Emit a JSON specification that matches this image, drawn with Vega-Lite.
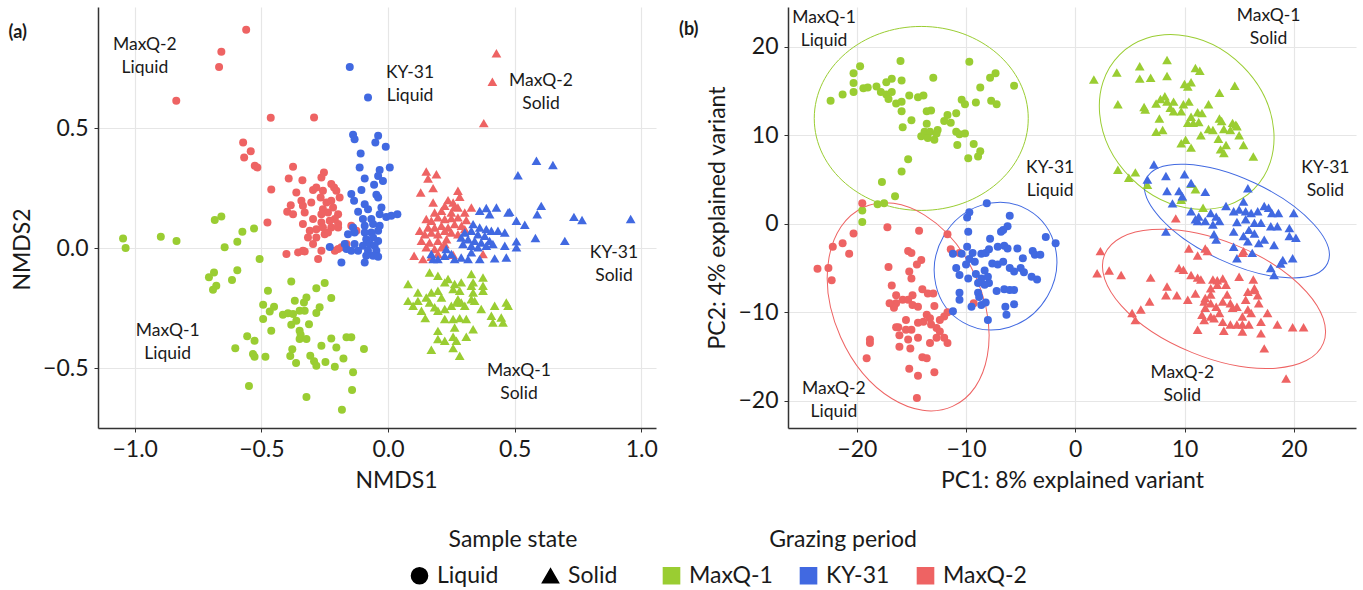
{
"$schema":"https://vega.github.io/schema/vega-lite/v6.json",
"padding":{"left":8,"top":6,"right":8,"bottom":0},
"background":"white",
"config":{
 "view":{"stroke":null},
 "font":"Lato",
 "axis":{"labelFont":"Lato","titleFont":"Lato","labelFontSize":23,"titleFontSize":23,"labelColor":"#1a1a1a","titleColor":"#1a1a1a","titleFontWeight":"normal","domainColor":"#333333","domainWidth":1.5,"tickColor":"#333333","tickSize":4,"gridColor":"#e6e6e6","gridWidth":1.2,"labelPadding":6,"titlePadding":8},
 "legend":{"direction":"horizontal","titleFont":"Lato","labelFont":"Lato","titleFontSize":23,"labelFontSize":23,"titleFontWeight":"normal","titleColor":"#1a1a1a","labelColor":"#1a1a1a","titleAnchor":"middle","symbolSize":260,"labelOffset":6,"titlePadding":12,"padding":0},
 "title":{"font":"Lato","fontSize":18,"fontWeight":"bold","color":"#1a1a1a"}
},
"resolve":{"scale":{"color":"shared","shape":"shared","x":"independent","y":"independent"}},
"spacing":20,
"datasets":{
"nmds":[
{"x":-1.046,"y":0.04,"period":"MaxQ-1","state":"Liquid"},{"x":-1.036,"y":0.0,"period":"MaxQ-1","state":"Liquid"},{"x":-0.897,"y":0.047,"period":"MaxQ-1","state":"Liquid"},{"x":-0.835,"y":0.03,"period":"MaxQ-1","state":"Liquid"},{"x":-0.684,"y":0.117,"period":"MaxQ-1","state":"Liquid"},{"x":-0.658,"y":0.132,"period":"MaxQ-1","state":"Liquid"},{"x":-0.575,"y":0.068,"period":"MaxQ-1","state":"Liquid"},{"x":-0.529,"y":0.082,"period":"MaxQ-1","state":"Liquid"},{"x":-0.595,"y":0.026,"period":"MaxQ-1","state":"Liquid"},{"x":-0.645,"y":0.003,"period":"MaxQ-1","state":"Liquid"},{"x":-0.507,"y":-0.046,"period":"MaxQ-1","state":"Liquid"},{"x":-0.687,"y":-0.102,"period":"MaxQ-1","state":"Liquid"},{"x":-0.707,"y":-0.122,"period":"MaxQ-1","state":"Liquid"},{"x":-0.595,"y":-0.092,"period":"MaxQ-1","state":"Liquid"},{"x":-0.616,"y":-0.133,"period":"MaxQ-1","state":"Liquid"},{"x":-0.678,"y":-0.157,"period":"MaxQ-1","state":"Liquid"},{"x":-0.691,"y":-0.174,"period":"MaxQ-1","state":"Liquid"},{"x":-0.382,"y":-0.139,"period":"MaxQ-1","state":"Liquid"},{"x":-0.474,"y":-0.178,"period":"MaxQ-1","state":"Liquid"},{"x":-0.283,"y":-0.167,"period":"MaxQ-1","state":"Liquid"},{"x":-0.25,"y":-0.146,"period":"MaxQ-1","state":"Liquid"},{"x":-0.493,"y":-0.236,"period":"MaxQ-1","state":"Liquid"},{"x":-0.45,"y":-0.245,"period":"MaxQ-1","state":"Liquid"},{"x":-0.467,"y":-0.264,"period":"MaxQ-1","state":"Liquid"},{"x":-0.368,"y":-0.22,"period":"MaxQ-1","state":"Liquid"},{"x":-0.332,"y":-0.227,"period":"MaxQ-1","state":"Liquid"},{"x":-0.322,"y":-0.206,"period":"MaxQ-1","state":"Liquid"},{"x":-0.224,"y":-0.208,"period":"MaxQ-1","state":"Liquid"},{"x":-0.27,"y":-0.247,"period":"MaxQ-1","state":"Liquid"},{"x":-0.283,"y":-0.271,"period":"MaxQ-1","state":"Liquid"},{"x":-0.415,"y":-0.278,"period":"MaxQ-1","state":"Liquid"},{"x":-0.395,"y":-0.272,"period":"MaxQ-1","state":"Liquid"},{"x":-0.375,"y":-0.275,"period":"MaxQ-1","state":"Liquid"},{"x":-0.349,"y":-0.261,"period":"MaxQ-1","state":"Liquid"},{"x":-0.329,"y":-0.261,"period":"MaxQ-1","state":"Liquid"},{"x":-0.493,"y":-0.296,"period":"MaxQ-1","state":"Liquid"},{"x":-0.362,"y":-0.303,"period":"MaxQ-1","state":"Liquid"},{"x":-0.382,"y":-0.32,"period":"MaxQ-1","state":"Liquid"},{"x":-0.312,"y":-0.317,"period":"MaxQ-1","state":"Liquid"},{"x":-0.461,"y":-0.345,"period":"MaxQ-1","state":"Liquid"},{"x":-0.349,"y":-0.345,"period":"MaxQ-1","state":"Liquid"},{"x":-0.345,"y":-0.361,"period":"MaxQ-1","state":"Liquid"},{"x":-0.556,"y":-0.368,"period":"MaxQ-1","state":"Liquid"},{"x":-0.527,"y":-0.386,"period":"MaxQ-1","state":"Liquid"},{"x":-0.349,"y":-0.379,"period":"MaxQ-1","state":"Liquid"},{"x":-0.322,"y":-0.379,"period":"MaxQ-1","state":"Liquid"},{"x":-0.224,"y":-0.377,"period":"MaxQ-1","state":"Liquid"},{"x":-0.164,"y":-0.372,"period":"MaxQ-1","state":"Liquid"},{"x":-0.145,"y":-0.372,"period":"MaxQ-1","state":"Liquid"},{"x":-0.263,"y":-0.407,"period":"MaxQ-1","state":"Liquid"},{"x":-0.204,"y":-0.414,"period":"MaxQ-1","state":"Liquid"},{"x":-0.095,"y":-0.421,"period":"MaxQ-1","state":"Liquid"},{"x":-0.603,"y":-0.418,"period":"MaxQ-1","state":"Liquid"},{"x":-0.533,"y":-0.442,"period":"MaxQ-1","state":"Liquid"},{"x":-0.527,"y":-0.453,"period":"MaxQ-1","state":"Liquid"},{"x":-0.484,"y":-0.453,"period":"MaxQ-1","state":"Liquid"},{"x":-0.378,"y":-0.422,"period":"MaxQ-1","state":"Liquid"},{"x":-0.386,"y":-0.45,"period":"MaxQ-1","state":"Liquid"},{"x":-0.307,"y":-0.449,"period":"MaxQ-1","state":"Liquid"},{"x":-0.292,"y":-0.472,"period":"MaxQ-1","state":"Liquid"},{"x":-0.283,"y":-0.49,"period":"MaxQ-1","state":"Liquid"},{"x":-0.247,"y":-0.475,"period":"MaxQ-1","state":"Liquid"},{"x":-0.176,"y":-0.46,"period":"MaxQ-1","state":"Liquid"},{"x":-0.363,"y":-0.479,"period":"MaxQ-1","state":"Liquid"},{"x":-0.21,"y":-0.495,"period":"MaxQ-1","state":"Liquid"},{"x":-0.138,"y":-0.518,"period":"MaxQ-1","state":"Liquid"},{"x":-0.549,"y":-0.575,"period":"MaxQ-1","state":"Liquid"},{"x":-0.142,"y":-0.592,"period":"MaxQ-1","state":"Liquid"},{"x":-0.322,"y":-0.621,"period":"MaxQ-1","state":"Liquid"},{"x":-0.182,"y":-0.674,"period":"MaxQ-1","state":"Liquid"},
{"x":-0.56,"y":0.91,"period":"MaxQ-2","state":"Liquid"},{"x":-0.658,"y":0.818,"period":"MaxQ-2","state":"Liquid"},{"x":-0.667,"y":0.755,"period":"MaxQ-2","state":"Liquid"},{"x":-0.836,"y":0.614,"period":"MaxQ-2","state":"Liquid"},{"x":-0.463,"y":0.543,"period":"MaxQ-2","state":"Liquid"},{"x":-0.292,"y":0.544,"period":"MaxQ-2","state":"Liquid"},{"x":-0.572,"y":0.44,"period":"MaxQ-2","state":"Liquid"},{"x":-0.542,"y":0.404,"period":"MaxQ-2","state":"Liquid"},{"x":-0.568,"y":0.378,"period":"MaxQ-2","state":"Liquid"},{"x":-0.526,"y":0.343,"period":"MaxQ-2","state":"Liquid"},{"x":-0.516,"y":0.336,"period":"MaxQ-2","state":"Liquid"},{"x":-0.375,"y":0.339,"period":"MaxQ-2","state":"Liquid"},{"x":-0.392,"y":0.29,"period":"MaxQ-2","state":"Liquid"},{"x":-0.338,"y":0.283,"period":"MaxQ-2","state":"Liquid"},{"x":-0.253,"y":0.315,"period":"MaxQ-2","state":"Liquid"},{"x":-0.263,"y":0.294,"period":"MaxQ-2","state":"Liquid"},{"x":-0.461,"y":0.244,"period":"MaxQ-2","state":"Liquid"},{"x":-0.362,"y":0.232,"period":"MaxQ-2","state":"Liquid"},{"x":-0.296,"y":0.242,"period":"MaxQ-2","state":"Liquid"},{"x":-0.283,"y":0.253,"period":"MaxQ-2","state":"Liquid"},{"x":-0.224,"y":0.267,"period":"MaxQ-2","state":"Liquid"},{"x":-0.213,"y":0.253,"period":"MaxQ-2","state":"Liquid"},{"x":-0.257,"y":0.239,"period":"MaxQ-2","state":"Liquid"},{"x":-0.204,"y":0.239,"period":"MaxQ-2","state":"Liquid"},{"x":-0.191,"y":0.211,"period":"MaxQ-2","state":"Liquid"},{"x":-0.384,"y":0.179,"period":"MaxQ-2","state":"Liquid"},{"x":-0.342,"y":0.197,"period":"MaxQ-2","state":"Liquid"},{"x":-0.303,"y":0.19,"period":"MaxQ-2","state":"Liquid"},{"x":-0.336,"y":0.176,"period":"MaxQ-2","state":"Liquid"},{"x":-0.329,"y":0.148,"period":"MaxQ-2","state":"Liquid"},{"x":-0.398,"y":0.151,"period":"MaxQ-2","state":"Liquid"},{"x":-0.375,"y":0.141,"period":"MaxQ-2","state":"Liquid"},{"x":-0.266,"y":0.211,"period":"MaxQ-2","state":"Liquid"},{"x":-0.243,"y":0.19,"period":"MaxQ-2","state":"Liquid"},{"x":-0.224,"y":0.197,"period":"MaxQ-2","state":"Liquid"},{"x":-0.217,"y":0.169,"period":"MaxQ-2","state":"Liquid"},{"x":-0.257,"y":0.162,"period":"MaxQ-2","state":"Liquid"},{"x":-0.237,"y":0.148,"period":"MaxQ-2","state":"Liquid"},{"x":-0.263,"y":0.141,"period":"MaxQ-2","state":"Liquid"},{"x":-0.197,"y":0.141,"period":"MaxQ-2","state":"Liquid"},{"x":-0.21,"y":0.121,"period":"MaxQ-2","state":"Liquid"},{"x":-0.23,"y":0.114,"period":"MaxQ-2","state":"Liquid"},{"x":-0.197,"y":0.1,"period":"MaxQ-2","state":"Liquid"},{"x":-0.296,"y":0.121,"period":"MaxQ-2","state":"Liquid"},{"x":-0.263,"y":0.107,"period":"MaxQ-2","state":"Liquid"},{"x":-0.336,"y":0.1,"period":"MaxQ-2","state":"Liquid"},{"x":-0.309,"y":0.072,"period":"MaxQ-2","state":"Liquid"},{"x":-0.283,"y":0.079,"period":"MaxQ-2","state":"Liquid"},{"x":-0.257,"y":0.086,"period":"MaxQ-2","state":"Liquid"},{"x":-0.224,"y":0.086,"period":"MaxQ-2","state":"Liquid"},{"x":-0.197,"y":0.086,"period":"MaxQ-2","state":"Liquid"},{"x":-0.25,"y":0.058,"period":"MaxQ-2","state":"Liquid"},{"x":-0.283,"y":0.044,"period":"MaxQ-2","state":"Liquid"},{"x":-0.316,"y":0.044,"period":"MaxQ-2","state":"Liquid"},{"x":-0.145,"y":0.093,"period":"MaxQ-2","state":"Liquid"},{"x":-0.125,"y":0.072,"period":"MaxQ-2","state":"Liquid"},{"x":-0.164,"y":0.017,"period":"MaxQ-2","state":"Liquid"},{"x":-0.197,"y":-0.004,"period":"MaxQ-2","state":"Liquid"},{"x":-0.263,"y":-0.011,"period":"MaxQ-2","state":"Liquid"},{"x":-0.336,"y":-0.011,"period":"MaxQ-2","state":"Liquid"},{"x":-0.296,"y":0.017,"period":"MaxQ-2","state":"Liquid"},{"x":-0.276,"y":-0.046,"period":"MaxQ-2","state":"Liquid"},{"x":-0.476,"y":0.107,"period":"MaxQ-2","state":"Liquid"},{"x":-0.401,"y":-0.025,"period":"MaxQ-2","state":"Liquid"},{"x":-0.355,"y":-0.018,"period":"MaxQ-2","state":"Liquid"},{"x":-0.329,"y":-0.014,"period":"MaxQ-2","state":"Liquid"},{"x":-0.237,"y":0.065,"period":"MaxQ-2","state":"Liquid"},{"x":-0.184,"y":0.003,"period":"MaxQ-2","state":"Liquid"},{"x":-0.21,"y":-0.011,"period":"MaxQ-2","state":"Liquid"},
{"x":-0.151,"y":0.755,"period":"KY-31","state":"Liquid"},{"x":-0.079,"y":0.628,"period":"KY-31","state":"Liquid"},{"x":-0.138,"y":0.472,"period":"KY-31","state":"Liquid"},{"x":-0.132,"y":0.454,"period":"KY-31","state":"Liquid"},{"x":-0.039,"y":0.468,"period":"KY-31","state":"Liquid"},{"x":-0.05,"y":0.44,"period":"KY-31","state":"Liquid"},{"x":-0.009,"y":0.422,"period":"KY-31","state":"Liquid"},{"x":-0.108,"y":0.394,"period":"KY-31","state":"Liquid"},{"x":-0.112,"y":0.336,"period":"KY-31","state":"Liquid"},{"x":0.007,"y":0.336,"period":"KY-31","state":"Liquid"},{"x":-0.033,"y":0.325,"period":"KY-31","state":"Liquid"},{"x":-0.039,"y":0.301,"period":"KY-31","state":"Liquid"},{"x":-0.02,"y":0.28,"period":"KY-31","state":"Liquid"},{"x":-0.092,"y":0.29,"period":"KY-31","state":"Liquid"},{"x":-0.055,"y":0.264,"period":"KY-31","state":"Liquid"},{"x":-0.105,"y":0.242,"period":"KY-31","state":"Liquid"},{"x":-0.145,"y":0.225,"period":"KY-31","state":"Liquid"},{"x":-0.134,"y":0.197,"period":"KY-31","state":"Liquid"},{"x":-0.046,"y":0.222,"period":"KY-31","state":"Liquid"},{"x":-0.039,"y":0.211,"period":"KY-31","state":"Liquid"},{"x":-0.092,"y":0.183,"period":"KY-31","state":"Liquid"},{"x":-0.079,"y":0.162,"period":"KY-31","state":"Liquid"},{"x":-0.026,"y":0.169,"period":"KY-31","state":"Liquid"},{"x":-0.033,"y":0.141,"period":"KY-31","state":"Liquid"},{"x":-0.007,"y":0.13,"period":"KY-31","state":"Liquid"},{"x":0.013,"y":0.135,"period":"KY-31","state":"Liquid"},{"x":0.037,"y":0.141,"period":"KY-31","state":"Liquid"},{"x":-0.118,"y":0.151,"period":"KY-31","state":"Liquid"},{"x":-0.099,"y":0.121,"period":"KY-31","state":"Liquid"},{"x":-0.066,"y":0.121,"period":"KY-31","state":"Liquid"},{"x":-0.092,"y":0.093,"period":"KY-31","state":"Liquid"},{"x":-0.059,"y":0.1,"period":"KY-31","state":"Liquid"},{"x":-0.033,"y":0.093,"period":"KY-31","state":"Liquid"},{"x":-0.039,"y":0.072,"period":"KY-31","state":"Liquid"},{"x":-0.066,"y":0.065,"period":"KY-31","state":"Liquid"},{"x":-0.092,"y":0.065,"period":"KY-31","state":"Liquid"},{"x":-0.138,"y":0.086,"period":"KY-31","state":"Liquid"},{"x":-0.132,"y":0.065,"period":"KY-31","state":"Liquid"},{"x":-0.158,"y":0.058,"period":"KY-31","state":"Liquid"},{"x":-0.086,"y":0.037,"period":"KY-31","state":"Liquid"},{"x":-0.059,"y":0.044,"period":"KY-31","state":"Liquid"},{"x":-0.039,"y":0.03,"period":"KY-31","state":"Liquid"},{"x":-0.072,"y":0.017,"period":"KY-31","state":"Liquid"},{"x":-0.099,"y":0.01,"period":"KY-31","state":"Liquid"},{"x":-0.053,"y":0.01,"period":"KY-31","state":"Liquid"},{"x":-0.132,"y":0.017,"period":"KY-31","state":"Liquid"},{"x":-0.118,"y":-0.011,"period":"KY-31","state":"Liquid"},{"x":-0.145,"y":-0.011,"period":"KY-31","state":"Liquid"},{"x":-0.164,"y":-0.004,"period":"KY-31","state":"Liquid"},{"x":-0.079,"y":-0.011,"period":"KY-31","state":"Liquid"},{"x":-0.046,"y":-0.011,"period":"KY-31","state":"Liquid"},{"x":-0.059,"y":-0.032,"period":"KY-31","state":"Liquid"},{"x":-0.039,"y":-0.036,"period":"KY-31","state":"Liquid"},{"x":-0.086,"y":-0.032,"period":"KY-31","state":"Liquid"},{"x":-0.184,"y":-0.06,"period":"KY-31","state":"Liquid"},{"x":-0.092,"y":-0.06,"period":"KY-31","state":"Liquid"},{"x":-0.23,"y":0.005,"period":"KY-31","state":"Liquid"},{"x":-0.171,"y":0.017,"period":"KY-31","state":"Liquid"},
{"x":0.428,"y":0.812,"period":"MaxQ-2","state":"Solid"},{"x":0.412,"y":0.693,"period":"MaxQ-2","state":"Solid"},{"x":0.378,"y":0.521,"period":"MaxQ-2","state":"Solid"},{"x":0.151,"y":0.319,"period":"MaxQ-2","state":"Solid"},{"x":0.191,"y":0.308,"period":"MaxQ-2","state":"Solid"},{"x":0.158,"y":0.29,"period":"MaxQ-2","state":"Solid"},{"x":0.129,"y":0.232,"period":"MaxQ-2","state":"Solid"},{"x":0.178,"y":0.25,"period":"MaxQ-2","state":"Solid"},{"x":0.276,"y":0.239,"period":"MaxQ-2","state":"Solid"},{"x":0.283,"y":0.214,"period":"MaxQ-2","state":"Solid"},{"x":0.178,"y":0.19,"period":"MaxQ-2","state":"Solid"},{"x":0.237,"y":0.2,"period":"MaxQ-2","state":"Solid"},{"x":0.257,"y":0.19,"period":"MaxQ-2","state":"Solid"},{"x":0.263,"y":0.172,"period":"MaxQ-2","state":"Solid"},{"x":0.224,"y":0.176,"period":"MaxQ-2","state":"Solid"},{"x":0.276,"y":0.169,"period":"MaxQ-2","state":"Solid"},{"x":0.329,"y":0.169,"period":"MaxQ-2","state":"Solid"},{"x":0.303,"y":0.148,"period":"MaxQ-2","state":"Solid"},{"x":0.25,"y":0.148,"period":"MaxQ-2","state":"Solid"},{"x":0.184,"y":0.148,"period":"MaxQ-2","state":"Solid"},{"x":0.211,"y":0.155,"period":"MaxQ-2","state":"Solid"},{"x":0.151,"y":0.121,"period":"MaxQ-2","state":"Solid"},{"x":0.171,"y":0.114,"period":"MaxQ-2","state":"Solid"},{"x":0.197,"y":0.128,"period":"MaxQ-2","state":"Solid"},{"x":0.224,"y":0.121,"period":"MaxQ-2","state":"Solid"},{"x":0.25,"y":0.125,"period":"MaxQ-2","state":"Solid"},{"x":0.276,"y":0.128,"period":"MaxQ-2","state":"Solid"},{"x":0.309,"y":0.117,"period":"MaxQ-2","state":"Solid"},{"x":0.29,"y":0.093,"period":"MaxQ-2","state":"Solid"},{"x":0.263,"y":0.1,"period":"MaxQ-2","state":"Solid"},{"x":0.237,"y":0.086,"period":"MaxQ-2","state":"Solid"},{"x":0.211,"y":0.093,"period":"MaxQ-2","state":"Solid"},{"x":0.184,"y":0.086,"period":"MaxQ-2","state":"Solid"},{"x":0.158,"y":0.086,"period":"MaxQ-2","state":"Solid"},{"x":0.125,"y":0.072,"period":"MaxQ-2","state":"Solid"},{"x":0.145,"y":0.058,"period":"MaxQ-2","state":"Solid"},{"x":0.171,"y":0.065,"period":"MaxQ-2","state":"Solid"},{"x":0.197,"y":0.058,"period":"MaxQ-2","state":"Solid"},{"x":0.224,"y":0.072,"period":"MaxQ-2","state":"Solid"},{"x":0.25,"y":0.065,"period":"MaxQ-2","state":"Solid"},{"x":0.276,"y":0.058,"period":"MaxQ-2","state":"Solid"},{"x":0.303,"y":0.079,"period":"MaxQ-2","state":"Solid"},{"x":0.132,"y":0.03,"period":"MaxQ-2","state":"Solid"},{"x":0.164,"y":0.023,"period":"MaxQ-2","state":"Solid"},{"x":0.197,"y":0.03,"period":"MaxQ-2","state":"Solid"},{"x":0.224,"y":0.017,"period":"MaxQ-2","state":"Solid"},{"x":0.151,"y":0.003,"period":"MaxQ-2","state":"Solid"},{"x":0.184,"y":-0.004,"period":"MaxQ-2","state":"Solid"},{"x":0.211,"y":0.003,"period":"MaxQ-2","state":"Solid"},{"x":0.231,"y":0.037,"period":"MaxQ-2","state":"Solid"},{"x":0.103,"y":-0.032,"period":"MaxQ-2","state":"Solid"},{"x":0.138,"y":-0.046,"period":"MaxQ-2","state":"Solid"},{"x":0.171,"y":-0.036,"period":"MaxQ-2","state":"Solid"},{"x":0.257,"y":-0.028,"period":"MaxQ-2","state":"Solid"},{"x":0.375,"y":-0.025,"period":"MaxQ-2","state":"Solid"},{"x":0.197,"y":-0.025,"period":"MaxQ-2","state":"Solid"},
{"x":0.586,"y":0.364,"period":"KY-31","state":"Solid"},{"x":0.651,"y":0.346,"period":"KY-31","state":"Solid"},{"x":0.513,"y":0.304,"period":"KY-31","state":"Solid"},{"x":0.605,"y":0.176,"period":"KY-31","state":"Solid"},{"x":0.589,"y":0.141,"period":"KY-31","state":"Solid"},{"x":0.48,"y":0.151,"period":"KY-31","state":"Solid"},{"x":0.507,"y":0.114,"period":"KY-31","state":"Solid"},{"x":0.54,"y":0.097,"period":"KY-31","state":"Solid"},{"x":0.734,"y":0.13,"period":"KY-31","state":"Solid"},{"x":0.766,"y":0.117,"period":"KY-31","state":"Solid"},{"x":0.958,"y":0.121,"period":"KY-31","state":"Solid"},{"x":0.582,"y":0.042,"period":"KY-31","state":"Solid"},{"x":0.698,"y":0.03,"period":"KY-31","state":"Solid"},{"x":0.507,"y":0.028,"period":"KY-31","state":"Solid"},{"x":0.461,"y":0.01,"period":"KY-31","state":"Solid"},{"x":0.362,"y":0.155,"period":"KY-31","state":"Solid"},{"x":0.388,"y":0.167,"period":"KY-31","state":"Solid"},{"x":0.428,"y":0.169,"period":"KY-31","state":"Solid"},{"x":0.474,"y":0.148,"period":"KY-31","state":"Solid"},{"x":0.401,"y":0.141,"period":"KY-31","state":"Solid"},{"x":0.336,"y":0.1,"period":"KY-31","state":"Solid"},{"x":0.362,"y":0.086,"period":"KY-31","state":"Solid"},{"x":0.329,"y":0.072,"period":"KY-31","state":"Solid"},{"x":0.303,"y":0.065,"period":"KY-31","state":"Solid"},{"x":0.388,"y":0.079,"period":"KY-31","state":"Solid"},{"x":0.408,"y":0.072,"period":"KY-31","state":"Solid"},{"x":0.434,"y":0.072,"period":"KY-31","state":"Solid"},{"x":0.461,"y":0.065,"period":"KY-31","state":"Solid"},{"x":0.355,"y":0.058,"period":"KY-31","state":"Solid"},{"x":0.382,"y":0.051,"period":"KY-31","state":"Solid"},{"x":0.289,"y":0.044,"period":"KY-31","state":"Solid"},{"x":0.316,"y":0.037,"period":"KY-31","state":"Solid"},{"x":0.342,"y":0.03,"period":"KY-31","state":"Solid"},{"x":0.368,"y":0.023,"period":"KY-31","state":"Solid"},{"x":0.401,"y":0.03,"period":"KY-31","state":"Solid"},{"x":0.296,"y":0.017,"period":"KY-31","state":"Solid"},{"x":0.329,"y":0.01,"period":"KY-31","state":"Solid"},{"x":0.355,"y":0.003,"period":"KY-31","state":"Solid"},{"x":0.388,"y":0.01,"period":"KY-31","state":"Solid"},{"x":0.414,"y":0.017,"period":"KY-31","state":"Solid"},{"x":0.507,"y":0.003,"period":"KY-31","state":"Solid"},{"x":0.23,"y":-0.004,"period":"KY-31","state":"Solid"},{"x":0.25,"y":-0.025,"period":"KY-31","state":"Solid"},{"x":0.197,"y":-0.046,"period":"KY-31","state":"Solid"},{"x":0.263,"y":-0.046,"period":"KY-31","state":"Solid"},{"x":0.289,"y":-0.039,"period":"KY-31","state":"Solid"},{"x":0.316,"y":-0.046,"period":"KY-31","state":"Solid"},{"x":0.362,"y":-0.046,"period":"KY-31","state":"Solid"},{"x":0.421,"y":-0.043,"period":"KY-31","state":"Solid"},{"x":0.467,"y":-0.039,"period":"KY-31","state":"Solid"},{"x":0.329,"y":-0.018,"period":"KY-31","state":"Solid"},{"x":0.224,"y":-0.032,"period":"KY-31","state":"Solid"},{"x":0.178,"y":-0.046,"period":"KY-31","state":"Solid"},{"x":0.171,"y":-0.025,"period":"KY-31","state":"Solid"},
{"x":0.164,"y":-0.102,"period":"MaxQ-1","state":"Solid"},{"x":0.197,"y":-0.115,"period":"MaxQ-1","state":"Solid"},{"x":0.237,"y":-0.129,"period":"MaxQ-1","state":"Solid"},{"x":0.224,"y":-0.143,"period":"MaxQ-1","state":"Solid"},{"x":0.329,"y":-0.108,"period":"MaxQ-1","state":"Solid"},{"x":0.375,"y":-0.123,"period":"MaxQ-1","state":"Solid"},{"x":0.336,"y":-0.143,"period":"MaxQ-1","state":"Solid"},{"x":0.329,"y":-0.157,"period":"MaxQ-1","state":"Solid"},{"x":0.375,"y":-0.157,"period":"MaxQ-1","state":"Solid"},{"x":0.375,"y":-0.178,"period":"MaxQ-1","state":"Solid"},{"x":0.079,"y":-0.15,"period":"MaxQ-1","state":"Solid"},{"x":0.263,"y":-0.15,"period":"MaxQ-1","state":"Solid"},{"x":0.289,"y":-0.143,"period":"MaxQ-1","state":"Solid"},{"x":0.257,"y":-0.171,"period":"MaxQ-1","state":"Solid"},{"x":0.283,"y":-0.178,"period":"MaxQ-1","state":"Solid"},{"x":0.118,"y":-0.185,"period":"MaxQ-1","state":"Solid"},{"x":0.171,"y":-0.185,"period":"MaxQ-1","state":"Solid"},{"x":0.197,"y":-0.178,"period":"MaxQ-1","state":"Solid"},{"x":0.151,"y":-0.206,"period":"MaxQ-1","state":"Solid"},{"x":0.211,"y":-0.206,"period":"MaxQ-1","state":"Solid"},{"x":0.336,"y":-0.185,"period":"MaxQ-1","state":"Solid"},{"x":0.329,"y":-0.213,"period":"MaxQ-1","state":"Solid"},{"x":0.342,"y":-0.22,"period":"MaxQ-1","state":"Solid"},{"x":0.276,"y":-0.213,"period":"MaxQ-1","state":"Solid"},{"x":0.289,"y":-0.227,"period":"MaxQ-1","state":"Solid"},{"x":0.079,"y":-0.22,"period":"MaxQ-1","state":"Solid"},{"x":0.118,"y":-0.22,"period":"MaxQ-1","state":"Solid"},{"x":0.099,"y":-0.24,"period":"MaxQ-1","state":"Solid"},{"x":0.132,"y":-0.261,"period":"MaxQ-1","state":"Solid"},{"x":0.164,"y":-0.227,"period":"MaxQ-1","state":"Solid"},{"x":0.184,"y":-0.247,"period":"MaxQ-1","state":"Solid"},{"x":0.197,"y":-0.261,"period":"MaxQ-1","state":"Solid"},{"x":0.224,"y":-0.254,"period":"MaxQ-1","state":"Solid"},{"x":0.25,"y":-0.24,"period":"MaxQ-1","state":"Solid"},{"x":0.27,"y":-0.227,"period":"MaxQ-1","state":"Solid"},{"x":0.303,"y":-0.24,"period":"MaxQ-1","state":"Solid"},{"x":0.368,"y":-0.254,"period":"MaxQ-1","state":"Solid"},{"x":0.421,"y":-0.24,"period":"MaxQ-1","state":"Solid"},{"x":0.467,"y":-0.227,"period":"MaxQ-1","state":"Solid"},{"x":0.474,"y":-0.24,"period":"MaxQ-1","state":"Solid"},{"x":0.147,"y":-0.292,"period":"MaxQ-1","state":"Solid"},{"x":0.224,"y":-0.296,"period":"MaxQ-1","state":"Solid"},{"x":0.257,"y":-0.296,"period":"MaxQ-1","state":"Solid"},{"x":0.283,"y":-0.292,"period":"MaxQ-1","state":"Solid"},{"x":0.309,"y":-0.296,"period":"MaxQ-1","state":"Solid"},{"x":0.408,"y":-0.282,"period":"MaxQ-1","state":"Solid"},{"x":0.414,"y":-0.31,"period":"MaxQ-1","state":"Solid"},{"x":0.454,"y":-0.31,"period":"MaxQ-1","state":"Solid"},{"x":0.447,"y":-0.289,"period":"MaxQ-1","state":"Solid"},{"x":0.263,"y":-0.331,"period":"MaxQ-1","state":"Solid"},{"x":0.336,"y":-0.338,"period":"MaxQ-1","state":"Solid"},{"x":0.197,"y":-0.345,"period":"MaxQ-1","state":"Solid"},{"x":0.309,"y":-0.37,"period":"MaxQ-1","state":"Solid"},{"x":0.197,"y":-0.379,"period":"MaxQ-1","state":"Solid"},{"x":0.224,"y":-0.386,"period":"MaxQ-1","state":"Solid"},{"x":0.257,"y":-0.37,"period":"MaxQ-1","state":"Solid"},{"x":0.27,"y":-0.386,"period":"MaxQ-1","state":"Solid"},{"x":0.171,"y":-0.424,"period":"MaxQ-1","state":"Solid"},{"x":0.257,"y":-0.417,"period":"MaxQ-1","state":"Solid"},{"x":0.283,"y":-0.449,"period":"MaxQ-1","state":"Solid"}
],
"pca":[
{"x":-22.4,"y":13.9,"period":"MaxQ-1","state":"Liquid"},{"x":-21.3,"y":14.6,"period":"MaxQ-1","state":"Liquid"},{"x":-20.3,"y":14.9,"period":"MaxQ-1","state":"Liquid"},{"x":-20.3,"y":15.9,"period":"MaxQ-1","state":"Liquid"},{"x":-20.3,"y":17.0,"period":"MaxQ-1","state":"Liquid"},{"x":-19.7,"y":17.8,"period":"MaxQ-1","state":"Liquid"},{"x":-19.4,"y":15.3,"period":"MaxQ-1","state":"Liquid"},{"x":-19.0,"y":15.4,"period":"MaxQ-1","state":"Liquid"},{"x":-18.2,"y":15.5,"period":"MaxQ-1","state":"Liquid"},{"x":-17.8,"y":14.9,"period":"MaxQ-1","state":"Liquid"},{"x":-17.3,"y":14.6,"period":"MaxQ-1","state":"Liquid"},{"x":-17.1,"y":14.1,"period":"MaxQ-1","state":"Liquid"},{"x":-16.8,"y":14.9,"period":"MaxQ-1","state":"Liquid"},{"x":-17.3,"y":16.0,"period":"MaxQ-1","state":"Liquid"},{"x":-16.8,"y":16.4,"period":"MaxQ-1","state":"Liquid"},{"x":-16.0,"y":18.4,"period":"MaxQ-1","state":"Liquid"},{"x":-15.9,"y":16.2,"period":"MaxQ-1","state":"Liquid"},{"x":-16.4,"y":13.6,"period":"MaxQ-1","state":"Liquid"},{"x":-15.9,"y":13.8,"period":"MaxQ-1","state":"Liquid"},{"x":-15.9,"y":12.7,"period":"MaxQ-1","state":"Liquid"},{"x":-15.2,"y":14.5,"period":"MaxQ-1","state":"Liquid"},{"x":-14.4,"y":14.3,"period":"MaxQ-1","state":"Liquid"},{"x":-13.9,"y":14.5,"period":"MaxQ-1","state":"Liquid"},{"x":-13.0,"y":16.5,"period":"MaxQ-1","state":"Liquid"},{"x":-15.8,"y":10.9,"period":"MaxQ-1","state":"Liquid"},{"x":-15.0,"y":11.7,"period":"MaxQ-1","state":"Liquid"},{"x":-13.6,"y":12.7,"period":"MaxQ-1","state":"Liquid"},{"x":-13.2,"y":12.8,"period":"MaxQ-1","state":"Liquid"},{"x":-13.6,"y":11.3,"period":"MaxQ-1","state":"Liquid"},{"x":-14.1,"y":9.9,"period":"MaxQ-1","state":"Liquid"},{"x":-13.8,"y":10.4,"period":"MaxQ-1","state":"Liquid"},{"x":-13.3,"y":10.4,"period":"MaxQ-1","state":"Liquid"},{"x":-13.5,"y":9.7,"period":"MaxQ-1","state":"Liquid"},{"x":-12.9,"y":9.5,"period":"MaxQ-1","state":"Liquid"},{"x":-12.6,"y":10.6,"period":"MaxQ-1","state":"Liquid"},{"x":-12.7,"y":10.2,"period":"MaxQ-1","state":"Liquid"},{"x":-12.0,"y":11.6,"period":"MaxQ-1","state":"Liquid"},{"x":-11.7,"y":12.3,"period":"MaxQ-1","state":"Liquid"},{"x":-11.4,"y":11.4,"period":"MaxQ-1","state":"Liquid"},{"x":-10.9,"y":12.5,"period":"MaxQ-1","state":"Liquid"},{"x":-10.9,"y":10.4,"period":"MaxQ-1","state":"Liquid"},{"x":-10.6,"y":10.1,"period":"MaxQ-1","state":"Liquid"},{"x":-10.1,"y":10.2,"period":"MaxQ-1","state":"Liquid"},{"x":-10.8,"y":8.9,"period":"MaxQ-1","state":"Liquid"},{"x":-10.4,"y":14.0,"period":"MaxQ-1","state":"Liquid"},{"x":-10.1,"y":13.5,"period":"MaxQ-1","state":"Liquid"},{"x":-9.7,"y":18.3,"period":"MaxQ-1","state":"Liquid"},{"x":-9.1,"y":13.7,"period":"MaxQ-1","state":"Liquid"},{"x":-9.3,"y":9.0,"period":"MaxQ-1","state":"Liquid"},{"x":-8.7,"y":8.2,"period":"MaxQ-1","state":"Liquid"},{"x":-8.9,"y":7.6,"period":"MaxQ-1","state":"Liquid"},{"x":-9.8,"y":7.4,"period":"MaxQ-1","state":"Liquid"},{"x":-8.7,"y":15.4,"period":"MaxQ-1","state":"Liquid"},{"x":-7.8,"y":16.5,"period":"MaxQ-1","state":"Liquid"},{"x":-7.3,"y":17.0,"period":"MaxQ-1","state":"Liquid"},{"x":-7.7,"y":13.9,"period":"MaxQ-1","state":"Liquid"},{"x":-7.2,"y":13.5,"period":"MaxQ-1","state":"Liquid"},{"x":-5.6,"y":15.6,"period":"MaxQ-1","state":"Liquid"},{"x":-15.3,"y":7.3,"period":"MaxQ-1","state":"Liquid"},{"x":-15.9,"y":5.9,"period":"MaxQ-1","state":"Liquid"},{"x":-17.7,"y":4.7,"period":"MaxQ-1","state":"Liquid"},{"x":-16.5,"y":3.1,"period":"MaxQ-1","state":"Liquid"},{"x":-18.1,"y":2.2,"period":"MaxQ-1","state":"Liquid"},{"x":-17.5,"y":2.3,"period":"MaxQ-1","state":"Liquid"},{"x":-19.5,"y":1.5,"period":"MaxQ-1","state":"Liquid"},{"x":-19.5,"y":0.2,"period":"MaxQ-1","state":"Liquid"},
{"x":-19.5,"y":2.3,"period":"MaxQ-2","state":"Liquid"},{"x":-20.3,"y":-1.1,"period":"MaxQ-2","state":"Liquid"},{"x":-21.3,"y":-2.2,"period":"MaxQ-2","state":"Liquid"},{"x":-22.2,"y":-2.6,"period":"MaxQ-2","state":"Liquid"},{"x":-17.2,"y":-0.4,"period":"MaxQ-2","state":"Liquid"},{"x":-14.3,"y":-0.8,"period":"MaxQ-2","state":"Liquid"},{"x":-11.7,"y":-1.2,"period":"MaxQ-2","state":"Liquid"},{"x":-15.3,"y":-3.1,"period":"MaxQ-2","state":"Liquid"},{"x":-15.0,"y":-3.3,"period":"MaxQ-2","state":"Liquid"},{"x":-20.7,"y":-3.4,"period":"MaxQ-2","state":"Liquid"},{"x":-14.1,"y":-4.1,"period":"MaxQ-2","state":"Liquid"},{"x":-14.5,"y":-4.6,"period":"MaxQ-2","state":"Liquid"},{"x":-17.1,"y":-4.9,"period":"MaxQ-2","state":"Liquid"},{"x":-15.2,"y":-5.4,"period":"MaxQ-2","state":"Liquid"},{"x":-15.0,"y":-6.2,"period":"MaxQ-2","state":"Liquid"},{"x":-11.4,"y":-2.9,"period":"MaxQ-2","state":"Liquid"},{"x":-10.6,"y":-3.3,"period":"MaxQ-2","state":"Liquid"},{"x":-16.8,"y":-7.0,"period":"MaxQ-2","state":"Liquid"},{"x":-14.0,"y":-7.4,"period":"MaxQ-2","state":"Liquid"},{"x":-13.5,"y":-7.9,"period":"MaxQ-2","state":"Liquid"},{"x":-13.0,"y":-7.9,"period":"MaxQ-2","state":"Liquid"},{"x":-16.4,"y":-8.1,"period":"MaxQ-2","state":"Liquid"},{"x":-15.8,"y":-8.6,"period":"MaxQ-2","state":"Liquid"},{"x":-16.4,"y":-9.0,"period":"MaxQ-2","state":"Liquid"},{"x":-15.3,"y":-8.6,"period":"MaxQ-2","state":"Liquid"},{"x":-14.9,"y":-8.1,"period":"MaxQ-2","state":"Liquid"},{"x":-14.9,"y":-9.2,"period":"MaxQ-2","state":"Liquid"},{"x":-14.4,"y":-9.4,"period":"MaxQ-2","state":"Liquid"},{"x":-16.6,"y":-9.5,"period":"MaxQ-2","state":"Liquid"},{"x":-12.9,"y":-9.3,"period":"MaxQ-2","state":"Liquid"},{"x":-11.7,"y":-10.0,"period":"MaxQ-2","state":"Liquid"},{"x":-12.0,"y":-10.5,"period":"MaxQ-2","state":"Liquid"},{"x":-9.3,"y":-9.0,"period":"MaxQ-2","state":"Liquid"},{"x":-13.6,"y":-10.3,"period":"MaxQ-2","state":"Liquid"},{"x":-13.3,"y":-10.7,"period":"MaxQ-2","state":"Liquid"},{"x":-13.9,"y":-11.1,"period":"MaxQ-2","state":"Liquid"},{"x":-14.4,"y":-11.2,"period":"MaxQ-2","state":"Liquid"},{"x":-13.2,"y":-11.4,"period":"MaxQ-2","state":"Liquid"},{"x":-12.4,"y":-10.9,"period":"MaxQ-2","state":"Liquid"},{"x":-15.5,"y":-10.9,"period":"MaxQ-2","state":"Liquid"},{"x":-16.2,"y":-11.7,"period":"MaxQ-2","state":"Liquid"},{"x":-15.0,"y":-12.0,"period":"MaxQ-2","state":"Liquid"},{"x":-15.5,"y":-12.0,"period":"MaxQ-2","state":"Liquid"},{"x":-12.7,"y":-11.8,"period":"MaxQ-2","state":"Liquid"},{"x":-12.4,"y":-12.2,"period":"MaxQ-2","state":"Liquid"},{"x":-12.0,"y":-12.9,"period":"MaxQ-2","state":"Liquid"},{"x":-11.7,"y":-13.5,"period":"MaxQ-2","state":"Liquid"},{"x":-16.1,"y":-12.6,"period":"MaxQ-2","state":"Liquid"},{"x":-15.3,"y":-13.1,"period":"MaxQ-2","state":"Liquid"},{"x":-14.4,"y":-12.9,"period":"MaxQ-2","state":"Liquid"},{"x":-13.3,"y":-13.5,"period":"MaxQ-2","state":"Liquid"},{"x":-12.7,"y":-12.9,"period":"MaxQ-2","state":"Liquid"},{"x":-18.8,"y":-13.1,"period":"MaxQ-2","state":"Liquid"},{"x":-18.8,"y":-13.5,"period":"MaxQ-2","state":"Liquid"},{"x":-16.1,"y":-13.9,"period":"MaxQ-2","state":"Liquid"},{"x":-15.1,"y":-14.1,"period":"MaxQ-2","state":"Liquid"},{"x":-23.6,"y":-5.1,"period":"MaxQ-2","state":"Liquid"},{"x":-22.6,"y":-5.0,"period":"MaxQ-2","state":"Liquid"},{"x":-22.3,"y":-6.4,"period":"MaxQ-2","state":"Liquid"},{"x":-19.1,"y":-15.2,"period":"MaxQ-2","state":"Liquid"},{"x":-15.2,"y":-16.4,"period":"MaxQ-2","state":"Liquid"},{"x":-14.4,"y":-17.2,"period":"MaxQ-2","state":"Liquid"},{"x":-14.0,"y":-15.1,"period":"MaxQ-2","state":"Liquid"},{"x":-13.6,"y":-15.2,"period":"MaxQ-2","state":"Liquid"},{"x":-12.9,"y":-16.8,"period":"MaxQ-2","state":"Liquid"},{"x":-14.5,"y":-19.7,"period":"MaxQ-2","state":"Liquid"},{"x":-17.0,"y":-9.0,"period":"MaxQ-2","state":"Liquid"},{"x":-16.4,"y":-11.7,"period":"MaxQ-2","state":"Liquid"},
{"x":-8.1,"y":2.3,"period":"KY-31","state":"Liquid"},{"x":-9.7,"y":1.3,"period":"KY-31","state":"Liquid"},{"x":-9.9,"y":0.7,"period":"KY-31","state":"Liquid"},{"x":-6.0,"y":0.9,"period":"KY-31","state":"Liquid"},{"x":-6.2,"y":-0.3,"period":"KY-31","state":"Liquid"},{"x":-6.6,"y":-0.7,"period":"KY-31","state":"Liquid"},{"x":-6.8,"y":-0.9,"period":"KY-31","state":"Liquid"},{"x":-9.8,"y":-0.9,"period":"KY-31","state":"Liquid"},{"x":-2.7,"y":-1.5,"period":"KY-31","state":"Liquid"},{"x":-1.8,"y":-2.2,"period":"KY-31","state":"Liquid"},{"x":-7.8,"y":-1.7,"period":"KY-31","state":"Liquid"},{"x":-9.9,"y":-2.6,"period":"KY-31","state":"Liquid"},{"x":-7.1,"y":-2.6,"period":"KY-31","state":"Liquid"},{"x":-6.5,"y":-2.5,"period":"KY-31","state":"Liquid"},{"x":-6.2,"y":-2.8,"period":"KY-31","state":"Liquid"},{"x":-5.3,"y":-2.8,"period":"KY-31","state":"Liquid"},{"x":-3.9,"y":-3.1,"period":"KY-31","state":"Liquid"},{"x":-3.7,"y":-3.5,"period":"KY-31","state":"Liquid"},{"x":-3.2,"y":-3.5,"period":"KY-31","state":"Liquid"},{"x":-11.2,"y":-3.4,"period":"KY-31","state":"Liquid"},{"x":-10.4,"y":-3.4,"period":"KY-31","state":"Liquid"},{"x":-9.4,"y":-3.3,"period":"KY-31","state":"Liquid"},{"x":-8.6,"y":-3.4,"period":"KY-31","state":"Liquid"},{"x":-8.2,"y":-3.3,"period":"KY-31","state":"Liquid"},{"x":-7.9,"y":-2.9,"period":"KY-31","state":"Liquid"},{"x":-9.7,"y":-4.0,"period":"KY-31","state":"Liquid"},{"x":-9.2,"y":-4.3,"period":"KY-31","state":"Liquid"},{"x":-4.8,"y":-3.9,"period":"KY-31","state":"Liquid"},{"x":-7.6,"y":-4.5,"period":"KY-31","state":"Liquid"},{"x":-7.1,"y":-4.6,"period":"KY-31","state":"Liquid"},{"x":-6.6,"y":-4.3,"period":"KY-31","state":"Liquid"},{"x":-10.0,"y":-4.6,"period":"KY-31","state":"Liquid"},{"x":-10.9,"y":-5.0,"period":"KY-31","state":"Liquid"},{"x":-10.6,"y":-5.8,"period":"KY-31","state":"Liquid"},{"x":-6.0,"y":-5.0,"period":"KY-31","state":"Liquid"},{"x":-5.6,"y":-5.4,"period":"KY-31","state":"Liquid"},{"x":-5.0,"y":-5.0,"period":"KY-31","state":"Liquid"},{"x":-4.7,"y":-5.5,"period":"KY-31","state":"Liquid"},{"x":-8.3,"y":-5.3,"period":"KY-31","state":"Liquid"},{"x":-9.1,"y":-5.7,"period":"KY-31","state":"Liquid"},{"x":-8.6,"y":-6.2,"period":"KY-31","state":"Liquid"},{"x":-8.0,"y":-6.0,"period":"KY-31","state":"Liquid"},{"x":-7.9,"y":-6.7,"period":"KY-31","state":"Liquid"},{"x":-8.3,"y":-6.9,"period":"KY-31","state":"Liquid"},{"x":-8.9,"y":-6.7,"period":"KY-31","state":"Liquid"},{"x":-9.8,"y":-6.2,"period":"KY-31","state":"Liquid"},{"x":-4.0,"y":-6.0,"period":"KY-31","state":"Liquid"},{"x":-3.5,"y":-6.3,"period":"KY-31","state":"Liquid"},{"x":-7.2,"y":-7.6,"period":"KY-31","state":"Liquid"},{"x":-6.5,"y":-7.4,"period":"KY-31","state":"Liquid"},{"x":-6.0,"y":-7.5,"period":"KY-31","state":"Liquid"},{"x":-5.6,"y":-7.5,"period":"KY-31","state":"Liquid"},{"x":-10.6,"y":-7.8,"period":"KY-31","state":"Liquid"},{"x":-10.6,"y":-8.6,"period":"KY-31","state":"Liquid"},{"x":-8.9,"y":-7.8,"period":"KY-31","state":"Liquid"},{"x":-8.8,"y":-8.3,"period":"KY-31","state":"Liquid"},{"x":-9.5,"y":-9.4,"period":"KY-31","state":"Liquid"},{"x":-8.6,"y":-9.2,"period":"KY-31","state":"Liquid"},{"x":-8.2,"y":-8.9,"period":"KY-31","state":"Liquid"},{"x":-6.4,"y":-9.4,"period":"KY-31","state":"Liquid"},{"x":-5.6,"y":-9.1,"period":"KY-31","state":"Liquid"},{"x":-6.3,"y":-10.3,"period":"KY-31","state":"Liquid"},{"x":-11.2,"y":-9.9,"period":"KY-31","state":"Liquid"},{"x":-8.0,"y":-10.9,"period":"KY-31","state":"Liquid"},
{"x":1.7,"y":16.3,"period":"MaxQ-1","state":"Solid"},{"x":3.8,"y":17.1,"period":"MaxQ-1","state":"Solid"},{"x":5.9,"y":17.8,"period":"MaxQ-1","state":"Solid"},{"x":5.9,"y":16.4,"period":"MaxQ-1","state":"Solid"},{"x":6.9,"y":16.5,"period":"MaxQ-1","state":"Solid"},{"x":8.4,"y":18.5,"period":"MaxQ-1","state":"Solid"},{"x":8.4,"y":16.7,"period":"MaxQ-1","state":"Solid"},{"x":10.0,"y":15.8,"period":"MaxQ-1","state":"Solid"},{"x":10.6,"y":16.0,"period":"MaxQ-1","state":"Solid"},{"x":10.3,"y":15.5,"period":"MaxQ-1","state":"Solid"},{"x":11.0,"y":17.6,"period":"MaxQ-1","state":"Solid"},{"x":11.4,"y":17.3,"period":"MaxQ-1","state":"Solid"},{"x":14.6,"y":15.6,"period":"MaxQ-1","state":"Solid"},{"x":13.2,"y":14.8,"period":"MaxQ-1","state":"Solid"},{"x":3.9,"y":13.5,"period":"MaxQ-1","state":"Solid"},{"x":6.3,"y":13.2,"period":"MaxQ-1","state":"Solid"},{"x":6.4,"y":12.9,"period":"MaxQ-1","state":"Solid"},{"x":7.4,"y":13.6,"period":"MaxQ-1","state":"Solid"},{"x":7.8,"y":14.1,"period":"MaxQ-1","state":"Solid"},{"x":8.2,"y":14.4,"period":"MaxQ-1","state":"Solid"},{"x":8.4,"y":13.8,"period":"MaxQ-1","state":"Solid"},{"x":9.0,"y":13.8,"period":"MaxQ-1","state":"Solid"},{"x":8.7,"y":13.1,"period":"MaxQ-1","state":"Solid"},{"x":9.0,"y":12.7,"period":"MaxQ-1","state":"Solid"},{"x":9.7,"y":12.7,"period":"MaxQ-1","state":"Solid"},{"x":9.9,"y":13.5,"period":"MaxQ-1","state":"Solid"},{"x":10.4,"y":13.8,"period":"MaxQ-1","state":"Solid"},{"x":12.2,"y":13.5,"period":"MaxQ-1","state":"Solid"},{"x":11.2,"y":12.6,"period":"MaxQ-1","state":"Solid"},{"x":11.6,"y":12.5,"period":"MaxQ-1","state":"Solid"},{"x":7.7,"y":11.9,"period":"MaxQ-1","state":"Solid"},{"x":10.3,"y":11.4,"period":"MaxQ-1","state":"Solid"},{"x":10.8,"y":11.4,"period":"MaxQ-1","state":"Solid"},{"x":11.3,"y":11.5,"period":"MaxQ-1","state":"Solid"},{"x":10.6,"y":12.1,"period":"MaxQ-1","state":"Solid"},{"x":13.2,"y":11.9,"period":"MaxQ-1","state":"Solid"},{"x":13.4,"y":11.6,"period":"MaxQ-1","state":"Solid"},{"x":12.2,"y":10.7,"period":"MaxQ-1","state":"Solid"},{"x":12.6,"y":10.6,"period":"MaxQ-1","state":"Solid"},{"x":11.5,"y":10.0,"period":"MaxQ-1","state":"Solid"},{"x":13.6,"y":10.7,"period":"MaxQ-1","state":"Solid"},{"x":14.2,"y":10.6,"period":"MaxQ-1","state":"Solid"},{"x":14.7,"y":11.2,"period":"MaxQ-1","state":"Solid"},{"x":14.8,"y":11.0,"period":"MaxQ-1","state":"Solid"},{"x":14.4,"y":11.4,"period":"MaxQ-1","state":"Solid"},{"x":7.4,"y":10.4,"period":"MaxQ-1","state":"Solid"},{"x":8.0,"y":10.6,"period":"MaxQ-1","state":"Solid"},{"x":15.0,"y":10.0,"period":"MaxQ-1","state":"Solid"},{"x":9.7,"y":9.1,"period":"MaxQ-1","state":"Solid"},{"x":10.1,"y":9.5,"period":"MaxQ-1","state":"Solid"},{"x":10.6,"y":8.6,"period":"MaxQ-1","state":"Solid"},{"x":13.1,"y":9.6,"period":"MaxQ-1","state":"Solid"},{"x":13.8,"y":8.9,"period":"MaxQ-1","state":"Solid"},{"x":13.3,"y":8.4,"period":"MaxQ-1","state":"Solid"},{"x":13.6,"y":8.0,"period":"MaxQ-1","state":"Solid"},{"x":15.4,"y":8.9,"period":"MaxQ-1","state":"Solid"},{"x":16.3,"y":7.6,"period":"MaxQ-1","state":"Solid"},{"x":3.9,"y":6.1,"period":"MaxQ-1","state":"Solid"},{"x":5.5,"y":5.8,"period":"MaxQ-1","state":"Solid"},{"x":4.9,"y":5.2,"period":"MaxQ-1","state":"Solid"},{"x":6.6,"y":4.4,"period":"MaxQ-1","state":"Solid"},{"x":10.6,"y":4.5,"period":"MaxQ-1","state":"Solid"},{"x":11.0,"y":3.9,"period":"MaxQ-1","state":"Solid"},{"x":9.7,"y":2.7,"period":"MaxQ-1","state":"Solid"},{"x":9.8,"y":3.0,"period":"MaxQ-1","state":"Solid"},{"x":11.7,"y":1.8,"period":"MaxQ-1","state":"Solid"},
{"x":7.2,"y":6.7,"period":"KY-31","state":"Solid"},{"x":6.6,"y":5.0,"period":"KY-31","state":"Solid"},{"x":8.3,"y":5.4,"period":"KY-31","state":"Solid"},{"x":10.0,"y":5.6,"period":"KY-31","state":"Solid"},{"x":8.4,"y":3.7,"period":"KY-31","state":"Solid"},{"x":9.5,"y":3.7,"period":"KY-31","state":"Solid"},{"x":10.6,"y":4.6,"period":"KY-31","state":"Solid"},{"x":11.9,"y":3.6,"period":"KY-31","state":"Solid"},{"x":15.8,"y":4.0,"period":"KY-31","state":"Solid"},{"x":8.9,"y":2.3,"period":"KY-31","state":"Solid"},{"x":9.8,"y":3.1,"period":"KY-31","state":"Solid"},{"x":10.6,"y":1.4,"period":"KY-31","state":"Solid"},{"x":11.2,"y":0.3,"period":"KY-31","state":"Solid"},{"x":11.9,"y":0.3,"period":"KY-31","state":"Solid"},{"x":12.4,"y":1.2,"period":"KY-31","state":"Solid"},{"x":12.9,"y":0.8,"period":"KY-31","state":"Solid"},{"x":13.2,"y":0.3,"period":"KY-31","state":"Solid"},{"x":12.6,"y":-0.1,"period":"KY-31","state":"Solid"},{"x":13.8,"y":2.0,"period":"KY-31","state":"Solid"},{"x":14.5,"y":1.4,"period":"KY-31","state":"Solid"},{"x":15.0,"y":1.6,"period":"KY-31","state":"Solid"},{"x":15.4,"y":2.5,"period":"KY-31","state":"Solid"},{"x":15.6,"y":1.4,"period":"KY-31","state":"Solid"},{"x":16.1,"y":1.2,"period":"KY-31","state":"Solid"},{"x":16.7,"y":1.4,"period":"KY-31","state":"Solid"},{"x":17.3,"y":2.0,"period":"KY-31","state":"Solid"},{"x":17.7,"y":1.8,"period":"KY-31","state":"Solid"},{"x":18.0,"y":1.2,"period":"KY-31","state":"Solid"},{"x":18.6,"y":1.2,"period":"KY-31","state":"Solid"},{"x":20.0,"y":1.2,"period":"KY-31","state":"Solid"},{"x":14.8,"y":0.2,"period":"KY-31","state":"Solid"},{"x":15.6,"y":0.5,"period":"KY-31","state":"Solid"},{"x":16.4,"y":0.1,"period":"KY-31","state":"Solid"},{"x":17.0,"y":0.1,"period":"KY-31","state":"Solid"},{"x":17.9,"y":-0.3,"period":"KY-31","state":"Solid"},{"x":18.5,"y":-0.3,"period":"KY-31","state":"Solid"},{"x":19.6,"y":-0.5,"period":"KY-31","state":"Solid"},{"x":15.9,"y":-0.7,"period":"KY-31","state":"Solid"},{"x":16.4,"y":-1.1,"period":"KY-31","state":"Solid"},{"x":14.5,"y":-0.9,"period":"KY-31","state":"Solid"},{"x":15.4,"y":-1.4,"period":"KY-31","state":"Solid"},{"x":15.8,"y":-2.0,"period":"KY-31","state":"Solid"},{"x":16.8,"y":-2.2,"period":"KY-31","state":"Solid"},{"x":17.3,"y":-1.8,"period":"KY-31","state":"Solid"},{"x":18.2,"y":-2.4,"period":"KY-31","state":"Solid"},{"x":19.6,"y":-1.4,"period":"KY-31","state":"Solid"},{"x":20.2,"y":-1.6,"period":"KY-31","state":"Solid"},{"x":12.7,"y":-1.2,"period":"KY-31","state":"Solid"},{"x":12.9,"y":-1.8,"period":"KY-31","state":"Solid"},{"x":16.2,"y":-3.3,"period":"KY-31","state":"Solid"},{"x":14.8,"y":-3.9,"period":"KY-31","state":"Solid"},{"x":19.0,"y":-4.1,"period":"KY-31","state":"Solid"},{"x":19.9,"y":-3.9,"period":"KY-31","state":"Solid"},{"x":18.8,"y":-4.5,"period":"KY-31","state":"Solid"},{"x":17.9,"y":-5.0,"period":"KY-31","state":"Solid"},{"x":18.2,"y":-5.8,"period":"KY-31","state":"Solid"},{"x":8.3,"y":-0.9,"period":"KY-31","state":"Solid"},{"x":14.5,"y":-2.6,"period":"KY-31","state":"Solid"},{"x":11.0,"y":0.5,"period":"KY-31","state":"Solid"},{"x":11.3,"y":0.8,"period":"KY-31","state":"Solid"},
{"x":9.2,"y":0.6,"period":"MaxQ-2","state":"Solid"},{"x":2.3,"y":-3.1,"period":"MaxQ-2","state":"Solid"},{"x":10.4,"y":-2.8,"period":"MaxQ-2","state":"Solid"},{"x":11.2,"y":-3.6,"period":"MaxQ-2","state":"Solid"},{"x":11.9,"y":-2.8,"period":"MaxQ-2","state":"Solid"},{"x":12.1,"y":-3.1,"period":"MaxQ-2","state":"Solid"},{"x":15.4,"y":-3.1,"period":"MaxQ-2","state":"Solid"},{"x":15.3,"y":-3.3,"period":"MaxQ-2","state":"Solid"},{"x":2.0,"y":-5.6,"period":"MaxQ-2","state":"Solid"},{"x":3.1,"y":-5.3,"period":"MaxQ-2","state":"Solid"},{"x":4.2,"y":-5.8,"period":"MaxQ-2","state":"Solid"},{"x":6.9,"y":-6.1,"period":"MaxQ-2","state":"Solid"},{"x":9.5,"y":-5.0,"period":"MaxQ-2","state":"Solid"},{"x":9.9,"y":-5.2,"period":"MaxQ-2","state":"Solid"},{"x":10.6,"y":-5.8,"period":"MaxQ-2","state":"Solid"},{"x":11.2,"y":-6.1,"period":"MaxQ-2","state":"Solid"},{"x":11.5,"y":-6.3,"period":"MaxQ-2","state":"Solid"},{"x":12.6,"y":-6.3,"period":"MaxQ-2","state":"Solid"},{"x":13.0,"y":-6.4,"period":"MaxQ-2","state":"Solid"},{"x":13.5,"y":-6.2,"period":"MaxQ-2","state":"Solid"},{"x":13.8,"y":-6.9,"period":"MaxQ-2","state":"Solid"},{"x":15.0,"y":-6.0,"period":"MaxQ-2","state":"Solid"},{"x":16.3,"y":-6.3,"period":"MaxQ-2","state":"Solid"},{"x":8.4,"y":-7.1,"period":"MaxQ-2","state":"Solid"},{"x":8.3,"y":-8.1,"period":"MaxQ-2","state":"Solid"},{"x":9.3,"y":-8.1,"period":"MaxQ-2","state":"Solid"},{"x":10.3,"y":-8.6,"period":"MaxQ-2","state":"Solid"},{"x":11.0,"y":-7.9,"period":"MaxQ-2","state":"Solid"},{"x":6.8,"y":-8.8,"period":"MaxQ-2","state":"Solid"},{"x":11.9,"y":-8.4,"period":"MaxQ-2","state":"Solid"},{"x":12.4,"y":-8.0,"period":"MaxQ-2","state":"Solid"},{"x":13.9,"y":-8.0,"period":"MaxQ-2","state":"Solid"},{"x":13.5,"y":-8.8,"period":"MaxQ-2","state":"Solid"},{"x":14.2,"y":-9.0,"period":"MaxQ-2","state":"Solid"},{"x":14.8,"y":-9.4,"period":"MaxQ-2","state":"Solid"},{"x":15.6,"y":-8.6,"period":"MaxQ-2","state":"Solid"},{"x":15.8,"y":-7.7,"period":"MaxQ-2","state":"Solid"},{"x":16.4,"y":-7.3,"period":"MaxQ-2","state":"Solid"},{"x":16.7,"y":-8.1,"period":"MaxQ-2","state":"Solid"},{"x":16.8,"y":-9.0,"period":"MaxQ-2","state":"Solid"},{"x":11.9,"y":-9.5,"period":"MaxQ-2","state":"Solid"},{"x":12.9,"y":-9.4,"period":"MaxQ-2","state":"Solid"},{"x":13.2,"y":-10.1,"period":"MaxQ-2","state":"Solid"},{"x":12.4,"y":-10.5,"period":"MaxQ-2","state":"Solid"},{"x":11.6,"y":-10.3,"period":"MaxQ-2","state":"Solid"},{"x":13.5,"y":-11.1,"period":"MaxQ-2","state":"Solid"},{"x":14.2,"y":-11.4,"period":"MaxQ-2","state":"Solid"},{"x":15.3,"y":-10.5,"period":"MaxQ-2","state":"Solid"},{"x":15.8,"y":-9.7,"period":"MaxQ-2","state":"Solid"},{"x":16.1,"y":-10.1,"period":"MaxQ-2","state":"Solid"},{"x":5.2,"y":-10.1,"period":"MaxQ-2","state":"Solid"},{"x":6.0,"y":-9.7,"period":"MaxQ-2","state":"Solid"},{"x":5.5,"y":-10.9,"period":"MaxQ-2","state":"Solid"},{"x":13.6,"y":-12.1,"period":"MaxQ-2","state":"Solid"},{"x":14.8,"y":-11.4,"period":"MaxQ-2","state":"Solid"},{"x":15.3,"y":-11.4,"period":"MaxQ-2","state":"Solid"},{"x":15.9,"y":-11.4,"period":"MaxQ-2","state":"Solid"},{"x":15.3,"y":-12.2,"period":"MaxQ-2","state":"Solid"},{"x":17.0,"y":-11.1,"period":"MaxQ-2","state":"Solid"},{"x":17.0,"y":-12.4,"period":"MaxQ-2","state":"Solid"},{"x":17.6,"y":-10.1,"period":"MaxQ-2","state":"Solid"},{"x":18.5,"y":-11.4,"period":"MaxQ-2","state":"Solid"},{"x":19.9,"y":-11.7,"period":"MaxQ-2","state":"Solid"},{"x":20.9,"y":-11.7,"period":"MaxQ-2","state":"Solid"},{"x":17.3,"y":-14.1,"period":"MaxQ-2","state":"Solid"},{"x":19.3,"y":-17.5,"period":"MaxQ-2","state":"Solid"},{"x":11.2,"y":-12.0,"period":"MaxQ-2","state":"Solid"},{"x":16.4,"y":-7.5,"period":"MaxQ-2","state":"Solid"},{"x":13.0,"y":-6.9,"period":"MaxQ-2","state":"Solid"},{"x":12.4,"y":-7.3,"period":"MaxQ-2","state":"Solid"},{"x":11.8,"y":-8.8,"period":"MaxQ-2","state":"Solid"},{"x":12.4,"y":-9.0,"period":"MaxQ-2","state":"Solid"},{"x":12.7,"y":-10.7,"period":"MaxQ-2","state":"Solid"},{"x":11.8,"y":-10.9,"period":"MaxQ-2","state":"Solid"},{"x":14.4,"y":-9.5,"period":"MaxQ-2","state":"Solid"}
],
"labA":[{"x":-0.96,"y":0.797,"label":"MaxQ-2\nLiquid"},{"x":0.087,"y":0.68,"label":"KY-31\nLiquid"},{"x":0.604,"y":0.647,"label":"MaxQ-2\nSolid"},{"x":0.892,"y":-0.07,"label":"KY-31\nSolid"},{"x":0.517,"y":-0.56,"label":"MaxQ-1\nSolid"},{"x":-0.87,"y":-0.393,"label":"MaxQ-1\nLiquid"}],
"labB":[{"x":-23.0,"y":21.9,"label":"MaxQ-1\nLiquid"},{"x":-2.3,"y":5.0,"label":"KY-31\nLiquid"},{"x":17.7,"y":22.2,"label":"MaxQ-1\nSolid"},{"x":22.9,"y":5.0,"label":"KY-31\nSolid"},{"x":-22.1,"y":-20.0,"label":"MaxQ-2\nLiquid"},{"x":9.8,"y":-18.2,"label":"MaxQ-2\nSolid"}],
"ell":[{"x":-14.1,"y":11.9,"period":"MaxQ-1","state":"Liquid"},{"x":10.2,"y":11.5,"period":"MaxQ-1","state":"Solid"},{"x":-7.3,"y":-4.8,"period":"KY-31","state":"Liquid"},{"x":14.8,"y":0.3,"period":"KY-31","state":"Solid"},{"x":-15.3,"y":-9.4,"period":"MaxQ-2","state":"Liquid"},{"x":12.7,"y":-8.5,"period":"MaxQ-2","state":"Solid"}]
},
"hconcat":[
{
 "width":558,"height":421,
 "title":{"text":"(a)","anchor":"start","frame":"bounds","baseline":"middle","offset":0,"dx":-3,"dy":44},
 "layer":[
  {"data":{"name":"nmds"},
   "mark":{"type":"point","filled":true,"opacity":1,"strokeWidth":0},
   "encoding":{
    "x":{"field":"x","type":"quantitative","scale":{"domain":[-1.145,1.058],"nice":false,"zero":false},"axis":{"values":[-1,-0.5,0,0.5,1],"format":".1f","title":"NMDS1","titleX":298}},
    "y":{"field":"y","type":"quantitative","scale":{"domain":[-0.75,1.005],"nice":false,"zero":false},"axis":{"values":[-0.5,0,0.5],"format":".1f","title":"NMDS2","titleY":242}},
    "color":{"field":"period","type":"nominal","scale":{"domain":["MaxQ-1","KY-31","MaxQ-2"],"range":["#9ACD32","#4169E1","#EE6363"]},"legend":{"title":"Grazing period","symbolType":"square","orient":"none","legendX":562,"legendY":522,"columnPadding":24}},
    "shape":{"field":"state","type":"nominal","scale":{"domain":["Liquid","Solid"],"range":["circle","triangle-up"]},"legend":{"title":"Sample state","symbolFillColor":"black","symbolStrokeColor":"black","orient":"none","legendX":310,"legendY":522,"columnPadding":40}},
    "size":{"condition":{"test":"datum.state == 'Solid'","value":95},"value":64}
   }},
  {"data":{"name":"labA"},
   "mark":{"type":"text","font":"Lato","fontSize":17.5,"lineBreak":"\n","lineHeight":23,"align":"center","baseline":"middle","dy":-11.5,"color":"#1a1a1a"},
   "encoding":{"x":{"field":"x","type":"quantitative"},"y":{"field":"y","type":"quantitative"},"text":{"field":"label"}}}
 ]
},
{
 "width":568,"height":421,
 "title":{"text":"(b)","anchor":"start","frame":"bounds","baseline":"middle","offset":0,"dx":-28,"dy":41},
 "layer":[
  {"data":{"name":"ell"},"transform":[{"filter":"datum.period == 'MaxQ-1' && datum.state == 'Liquid'"}],
   "mark":{"type":"point","shape":"M -107 0 A 107 92 0 1 1 107 0 A 107 92 0 1 1 -107 0 Z","size":4,"filled":false,"strokeWidth":1,"opacity":1,"angle":0},
   "encoding":{"x":{"field":"x","type":"quantitative"},"y":{"field":"y","type":"quantitative"},"stroke":{"field":"period","type":"nominal","scale":{"domain":["MaxQ-1","KY-31","MaxQ-2"],"range":["#9ACD32","#4169E1","#EE6363"]},"legend":null}}},
  {"data":{"name":"ell"},"transform":[{"filter":"datum.period == 'MaxQ-1' && datum.state == 'Solid'"}],
   "mark":{"type":"point","shape":"M -95 0 A 95 79 0 1 1 95 0 A 95 79 0 1 1 -95 0 Z","size":4,"filled":false,"strokeWidth":1,"opacity":1,"angle":45},
   "encoding":{"x":{"field":"x","type":"quantitative"},"y":{"field":"y","type":"quantitative"},"stroke":{"field":"period","type":"nominal","legend":null}}},
  {"data":{"name":"ell"},"transform":[{"filter":"datum.period == 'KY-31' && datum.state == 'Liquid'"}],
   "mark":{"type":"point","shape":"M -65 0 A 65 60 0 1 1 65 0 A 65 60 0 1 1 -65 0 Z","size":4,"filled":false,"strokeWidth":1,"opacity":1,"angle":120},
   "encoding":{"x":{"field":"x","type":"quantitative"},"y":{"field":"y","type":"quantitative"},"stroke":{"field":"period","type":"nominal","legend":null}}},
  {"data":{"name":"ell"},"transform":[{"filter":"datum.period == 'KY-31' && datum.state == 'Solid'"}],
   "mark":{"type":"point","shape":"M -100 0 A 100 42 0 1 1 100 0 A 100 42 0 1 1 -100 0 Z","size":4,"filled":false,"strokeWidth":1,"opacity":1,"angle":25},
   "encoding":{"x":{"field":"x","type":"quantitative"},"y":{"field":"y","type":"quantitative"},"stroke":{"field":"period","type":"nominal","legend":null}}},
  {"data":{"name":"ell"},"transform":[{"filter":"datum.period == 'MaxQ-2' && datum.state == 'Liquid'"}],
   "mark":{"type":"point","shape":"M -109 0 A 109 74 0 1 1 109 0 A 109 74 0 1 1 -109 0 Z","size":4,"filled":false,"strokeWidth":1,"opacity":1,"angle":66},
   "encoding":{"x":{"field":"x","type":"quantitative"},"y":{"field":"y","type":"quantitative"},"stroke":{"field":"period","type":"nominal","legend":null}}},
  {"data":{"name":"ell"},"transform":[{"filter":"datum.period == 'MaxQ-2' && datum.state == 'Solid'"}],
   "mark":{"type":"point","shape":"M -118 0 A 118 58 0 1 1 118 0 A 118 58 0 1 1 -118 0 Z","size":4,"filled":false,"strokeWidth":1,"opacity":1,"angle":22},
   "encoding":{"x":{"field":"x","type":"quantitative"},"y":{"field":"y","type":"quantitative"},"stroke":{"field":"period","type":"nominal","legend":null}}},
  {"data":{"name":"pca"},
   "mark":{"type":"point","filled":true,"opacity":1,"strokeWidth":0},
   "encoding":{
    "x":{"field":"x","type":"quantitative","scale":{"domain":[-26.3,25.7],"nice":false,"zero":false},"axis":{"values":[-20,-10,0,10,20],"title":"PC1: 8% explained variant"}},
    "y":{"field":"y","type":"quantitative","scale":{"domain":[-23.1,24.5],"nice":false,"zero":false},"axis":{"values":[-20,-10,0,10,20],"title":"PC2: 4% explained variant"}},
    "color":{"field":"period","type":"nominal","scale":{"domain":["MaxQ-1","KY-31","MaxQ-2"],"range":["#9ACD32","#4169E1","#EE6363"]},"legend":{"title":"Grazing period","symbolType":"square","orient":"none","legendX":562,"legendY":522,"columnPadding":24}},
    "shape":{"field":"state","type":"nominal","scale":{"domain":["Liquid","Solid"],"range":["circle","triangle-up"]},"legend":{"title":"Sample state","symbolFillColor":"black","symbolStrokeColor":"black","orient":"none","legendX":310,"legendY":522,"columnPadding":40}},
    "size":{"condition":{"test":"datum.state == 'Solid'","value":95},"value":64}
   }},
  {"data":{"name":"labB"},
   "mark":{"type":"text","font":"Lato","fontSize":17.5,"lineBreak":"\n","lineHeight":23,"align":"center","baseline":"middle","dy":-11.5,"color":"#1a1a1a"},
   "encoding":{"x":{"field":"x","type":"quantitative"},"y":{"field":"y","type":"quantitative"},"text":{"field":"label"}}}
 ]
}
]
}
